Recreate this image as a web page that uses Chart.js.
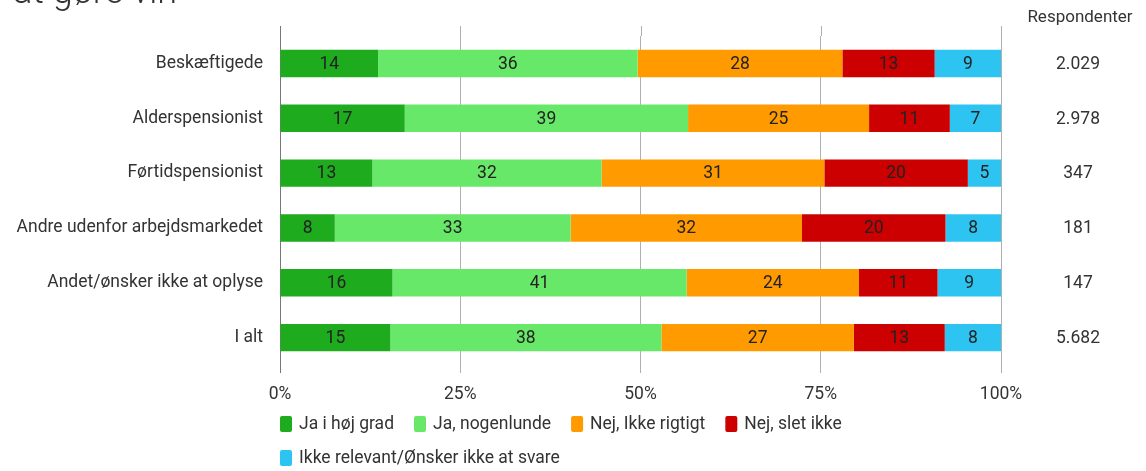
<!DOCTYPE html>
<html>
<head>
<meta charset="utf-8">
<script src="https://cdn.jsdelivr.net/npm/chart.js@4"></script>
<style>
  html, body { margin: 0; padding: 0; background: #ffffff; }
  #wrap { width: 1146px; height: 471px; position: relative; }
</style>
</head>
<body>
<div id="wrap"><canvas id="c" width="1146" height="471"></canvas></div>
<script>
const categories = ["Beskæftigede", "Alderspensionist", "Førtidspensionist", "Andre udenfor arbejdsmarkedet", "Andet/ønsker ikke at oplyse", "I alt"];
const seriesNames = ["Ja i høj grad", "Ja, nogenlunde", "Nej, Ikke rigtigt", "Nej, slet ikke", "Ikke relevant/Ønsker ikke at svare"];
const jaHoej = [13.6, 17.3, 12.8, 7.6, 15.6, 15.3];
const jaNogenlunde = [36.0, 39.3, 31.8, 32.7, 40.8, 37.6];
const nejIkkeRigtigt = [28.4, 25.1, 30.9, 32.1, 23.9, 26.7];
const nejSletIkke = [12.8, 11.2, 19.9, 19.9, 10.9, 12.6];
const ikkeRelevant = [9.2, 7.1, 4.6, 7.7, 8.8, 7.8];
const respondenter = ["2.029", "2.978", "347", "181", "147", "5.682"];
const xTicks = [0, 25, 50, 75, 100];
const colors = ["#1eab1e", "#68e868", "#ff9a00", "#cc0000", "#2ec4f2"];
const titleText = "at gøre vin";
const respHeader = "Respondenter";

const FONT = "Roboto, 'Noto Sans', sans-serif";
const seriesValues = [jaHoej, jaNogenlunde, nejIkkeRigtigt, nejSletIkke, ikkeRelevant];

const overlayPlugin = {
  id: 'overlay',
  afterDatasetsDraw(chart) {
    const ctx = chart.ctx;
    const xs = chart.scales.x, ys = chart.scales.y;
    const ca = chart.chartArea;
    ctx.save();
    // top grid extensions
    ctx.lineWidth = 1;
    xTicks.forEach(v => {
      const px = Math.round(xs.getPixelForValue(v)) + 0.5;
      ctx.strokeStyle = v === 0 ? '#777777' : '#b0b0b0';
      ctx.beginPath();
      ctx.moveTo(px, ca.top - 10);
      ctx.lineTo(px, ca.top);
      ctx.stroke();
    });
    // bar value labels
    ctx.font = "17.5px " + FONT;
    ctx.fillStyle = "#222222";
    ctx.textAlign = "center";
    ctx.textBaseline = "middle";
    chart.data.datasets.forEach((ds, di) => {
      const meta = chart.getDatasetMeta(di);
      meta.data.forEach((el, i) => {
        const cx = (el.x + el.base) / 2;
        ctx.fillText(String(Math.round(ds.data[i])), cx, el.y + 1);
      });
    });
    // respondenter column
    ctx.fillStyle = "#333333";
    ctx.font = "17.5px " + FONT;
    categories.forEach((c, i) => {
      ctx.fillText(respondenter[i], 1078, ys.getPixelForValue(i) + 1);
    });
    ctx.font = "17px " + FONT;
    ctx.fillText(respHeader, 1080, 18);
    // partial title
    ctx.textAlign = "left";
    ctx.textBaseline = "alphabetic";
    ctx.font = "300 36px " + FONT;
    ctx.fillStyle = "#333333";
    ctx.fillText(titleText, 13, 3);
    // custom legend
    ctx.font = "17.5px " + FONT;
    ctx.textBaseline = "middle";
    let x = ca.left, y = 424;
    const rowH = 34;
    chart.data.datasets.forEach((ds, di) => {
      const tw = ctx.measureText(ds.label).width;
      const itemW = 12 + 8 + tw;
      if (x + itemW > ca.right && x > ca.left) { x = ca.left; y += rowH; }
      ctx.fillStyle = ds.backgroundColor;
      ctx.beginPath();
      if (ctx.roundRect) ctx.roundRect(x, y - 8, 12, 16, 2); else ctx.rect(x, y - 8, 12, 16);
      ctx.fill();
      ctx.fillStyle = "#333333";
      ctx.fillText(ds.label, x + 19, y + 1);
      x += itemW + 19;
    });
    ctx.restore();
  }
};

new Chart(document.getElementById('c'), {
  type: 'bar',
  data: {
    labels: categories,
    datasets: seriesNames.map((n, i) => ({
      label: n,
      data: seriesValues[i],
      backgroundColor: colors[i],
      borderWidth: 0,
      barPercentage: 0.5,
      categoryPercentage: 1.0
    }))
  },
  options: {
    indexAxis: 'y',
    responsive: false,
    animation: false,
    devicePixelRatio: 1,
    layout: { padding: { left: 0, right: 145, top: 36, bottom: 66 } },
    plugins: { legend: { display: false }, tooltip: { enabled: false }, title: { display: false } },
    scales: {
      x: {
        stacked: true,
        min: 0, max: 100,
        afterBuildTicks(scale) { scale.ticks = xTicks.map(v => ({ value: v })); },
        afterFit(scale) { scale.height = 40; },
        border: { display: false },
        grid: {
          color: ctx => (ctx.tick && ctx.tick.value === 0) ? '#777777' : '#b0b0b0',
          lineWidth: 1,
          tickLength: 8,
          drawTicks: true
        },
        ticks: {
          padding: 11,
          color: '#333333',
          font: { family: FONT, size: 17.5 },
          callback: v => v + '%'
        }
      },
      y: {
        stacked: true,
        afterFit(scale) { scale.width = 280; },
        border: { display: false },
        grid: { display: false, drawTicks: false },
        ticks: {
          padding: 17,
          color: '#333333',
          font: { family: FONT, size: 17.5 }
        }
      }
    }
  },
  plugins: [overlayPlugin]
});
</script>
</body>
</html>
